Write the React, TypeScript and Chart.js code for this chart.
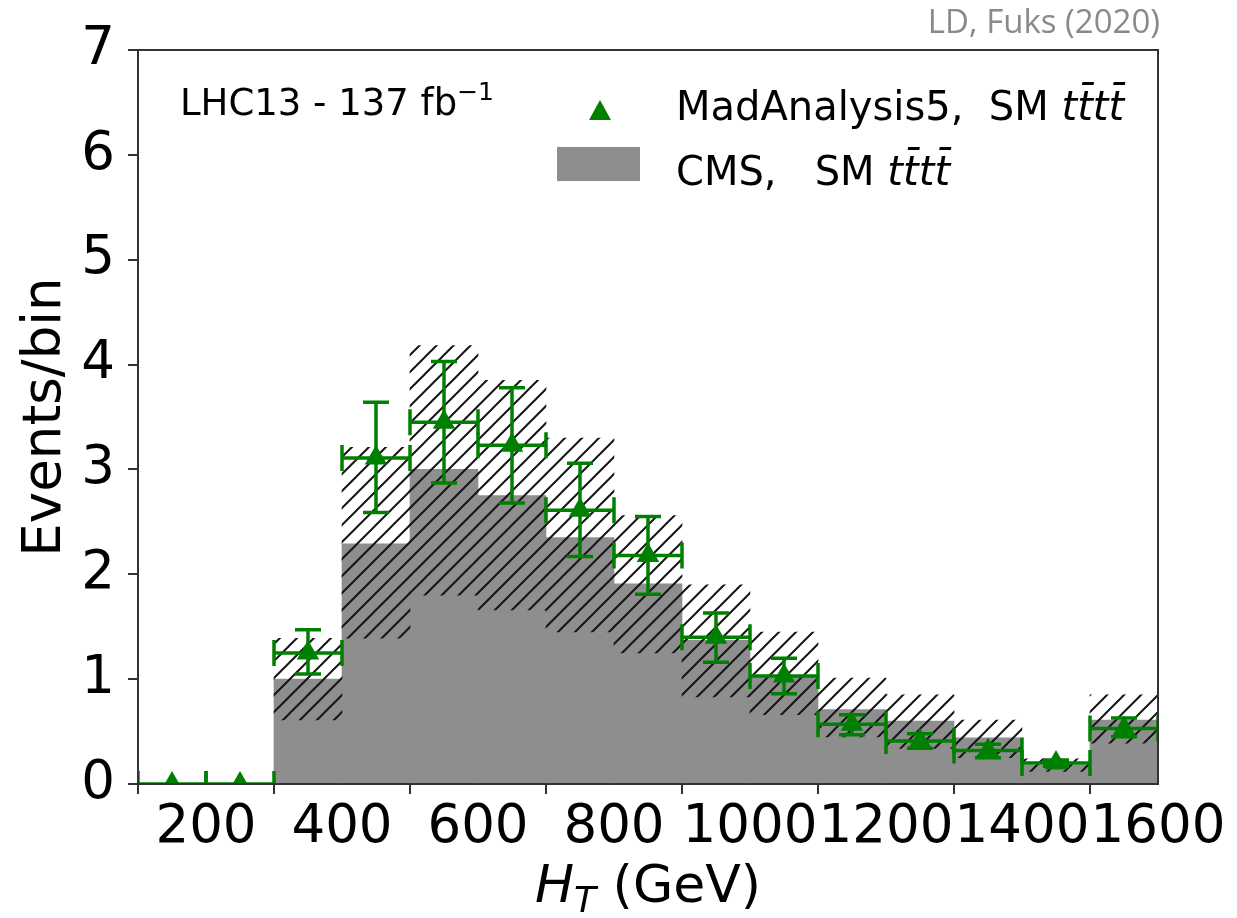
import React, { useEffect, useRef } from "react";
import { Chart, registerables } from "chart.js";

Chart.register(...registerables);

// ---- data ----
const binCenters = [150, 250, 350, 450, 550, 650, 750, 850, 950, 1050, 1150, 1250, 1350, 1450, 1550];
const binHalfWidth = 50;
const cmsValues = [0, 0, 1.0, 2.29, 3.0, 2.75, 2.35, 1.91, 1.37, 1.02, 0.71, 0.6, 0.44, 0.18, 0.61];
const cmsUncLow = [0, 0, 0.61, 1.39, 1.8, 1.66, 1.45, 1.25, 0.83, 0.66, 0.45, 0.34, 0.25, 0.12, 0.39];
const cmsUncHigh = [0, 0, 1.39, 3.21, 4.18, 3.85, 3.3, 2.56, 1.9, 1.45, 1.01, 0.85, 0.61, 0.24, 0.85];
const maValues = [0, 0, 1.25, 3.11, 3.45, 3.23, 2.61, 2.18, 1.4, 1.03, 0.57, 0.41, 0.32, 0.2, 0.53];
const maErrLow = [0, 0, 1.05, 2.59, 2.87, 2.68, 2.17, 1.81, 1.16, 0.86, 0.47, 0.34, 0.25, 0.17, 0.45];
const maErrHigh = [0, 0, 1.47, 3.64, 4.03, 3.78, 3.06, 2.55, 1.63, 1.2, 0.66, 0.48, 0.38, 0.23, 0.63];
const xTickValues = [200, 400, 600, 800, 1000, 1200, 1400, 1600];
const yTickValues = [0, 1, 2, 3, 4, 5, 6, 7];

const GREEN = "#008000";
const GRAY = "#8e8e8e";
const AXIS = "#333333";

function makeHatch(): CanvasPattern | string {
  const s = 17;
  const c = document.createElement("canvas");
  c.width = s;
  c.height = s;
  const g = c.getContext("2d");
  if (!g) return "rgba(0,0,0,0.3)";
  g.strokeStyle = "#151515";
  g.lineWidth = 2;
  g.beginPath();
  g.moveTo(0, s);
  g.lineTo(s, 0);
  g.moveTo(-2, 2);
  g.lineTo(2, -2);
  g.moveTo(s - 2, s + 2);
  g.lineTo(s + 2, s - 2);
  g.stroke();
  const p = g.createPattern(c, "repeat");
  return p || "rgba(0,0,0,0.3)";
}

const errorBarPlugin = {
  id: "errorBars",
  afterDatasetsDraw(chart: any) {
    const { ctx, chartArea, scales } = chart;
    const xs = scales.x;
    const ys = scales.y;
    ctx.save();
    ctx.beginPath();
    ctx.rect(chartArea.left, chartArea.top, chartArea.right - chartArea.left, chartArea.bottom - chartArea.top);
    ctx.clip();
    ctx.strokeStyle = GREEN;
    ctx.lineWidth = 3.5;
    const cap = 13;
    for (let i = 0; i < binCenters.length; i++) {
      const px = xs.getPixelForValue(binCenters[i]);
      const pl = xs.getPixelForValue(binCenters[i] - binHalfWidth);
      const pr = xs.getPixelForValue(binCenters[i] + binHalfWidth);
      const py = ys.getPixelForValue(maValues[i]);
      const pt = ys.getPixelForValue(maErrHigh[i]);
      const pb = ys.getPixelForValue(maErrLow[i]);
      ctx.beginPath();
      ctx.moveTo(pl, py);
      ctx.lineTo(pr, py);
      ctx.moveTo(pl, py - cap);
      ctx.lineTo(pl, py + cap);
      ctx.moveTo(pr, py - cap);
      ctx.lineTo(pr, py + cap);
      ctx.moveTo(px, pt);
      ctx.lineTo(px, pb);
      ctx.moveTo(px - cap, pt);
      ctx.lineTo(px + cap, pt);
      ctx.moveTo(px - cap, pb);
      ctx.lineTo(px + cap, pb);
      ctx.stroke();
    }
    ctx.restore();
  },
  afterDraw(chart: any) {
    const { ctx, chartArea } = chart;
    ctx.save();
    ctx.strokeStyle = AXIS;
    ctx.lineWidth = 2;
    ctx.strokeRect(chartArea.left, chartArea.top, chartArea.right - chartArea.left, chartArea.bottom - chartArea.top);
    ctx.restore();
  },
};

export default function App() {
  const ref = useRef<HTMLCanvasElement | null>(null);

  useEffect(() => {
    if (!ref.current) return;
    const hatch = makeHatch();
    const chart = new Chart(ref.current, {
      type: "bar",
      data: {
        datasets: [
          {
            type: "bar",
            label: "CMS,   SM tttt",
            data: binCenters.map((x, i) => ({ x, y: cmsValues[i] })),
            backgroundColor: GRAY,
            borderWidth: 0,
            grouped: false,
            barPercentage: 1,
            categoryPercentage: 1,
            order: 3,
          } as any,
          {
            type: "bar",
            label: "CMS uncertainty",
            data: binCenters.map((x, i) => ({ x, y: [cmsUncLow[i], cmsUncHigh[i]] })),
            backgroundColor: hatch,
            borderWidth: 0,
            grouped: false,
            barPercentage: 1,
            categoryPercentage: 1,
            order: 2,
          } as any,
          {
            type: "scatter",
            label: "MadAnalysis5,  SM tttt",
            data: binCenters.map((x, i) => ({ x, y: maValues[i] })),
            pointStyle: "triangle",
            pointRadius: 13,
            backgroundColor: GREEN,
            borderColor: GREEN,
            borderWidth: 0,
            clip: 0,
            order: 1,
          } as any,
        ],
      },
      options: {
        animation: false,
        responsive: false,
        events: [],
        layout: { padding: { top: 50, right: 79, left: 0, bottom: 0 } },
        plugins: { legend: { display: false }, tooltip: { enabled: false } },
        scales: {
          x: {
            type: "linear",
            min: 100,
            max: 1600,
            offset: false,
            afterBuildTicks: (scale: any) => {
              scale.ticks = xTickValues.map((v) => ({ value: v }));
            },
            afterFit: (scale: any) => {
              scale.height = 134;
            },
            grid: { drawOnChartArea: false, drawTicks: true, tickLength: 10, color: AXIS, lineWidth: 2 },
            border: { display: false },
            ticks: {
              color: "#000",
              font: { family: "DejaVu Sans", size: 53 },
              padding: 2,
              maxRotation: 0,
              autoSkip: false,
              callback: (v: any) => String(v),
            },
          },
          y: {
            type: "linear",
            min: 0,
            max: 7,
            afterBuildTicks: (scale: any) => {
              scale.ticks = yTickValues.map((v) => ({ value: v }));
            },
            afterFit: (scale: any) => {
              scale.width = 138;
            },
            grid: { drawOnChartArea: false, drawTicks: true, tickLength: 10, color: AXIS, lineWidth: 2 },
            border: { display: false },
            ticks: {
              color: "#000",
              font: { family: "DejaVu Sans", size: 53 },
              padding: 13,
              callback: (v: any) => String(v),
            },
            title: {
              display: true,
              text: "Events/bin",
              color: "#000",
              font: { family: "DejaVu Sans", size: 53 },
              padding: { top: 14, bottom: 0 },
            },
          },
        },
      },
      plugins: [errorBarPlugin],
    });
    return () => chart.destroy();
  }, []);

  const tttt = (
    <span style={{ fontStyle: "italic" }}>
      t{"t\u0304"}t{"t\u0304"}
    </span>
  );

  return (
    <div style={{ position: "absolute", left: 0, top: 0, width: 1237, height: 918, background: "#fff" }}>
      <canvas ref={ref} width={1237} height={918} style={{ position: "absolute", left: 0, top: 0, width: 1237, height: 918 }} />
      <div
        style={{
          position: "absolute",
          right: 1237 - 1160,
          top: 4,
          font: "33px 'Open Sans'",
          lineHeight: "33px",
          color: "#8a8a8a",
          whiteSpace: "nowrap",
        }}
      >
        LD, Fuks (2020)
      </div>
      <div
        style={{
          position: "absolute",
          left: 180,
          top: 84,
          font: "37px 'DejaVu Sans'",
          lineHeight: "37px",
          color: "#000",
          whiteSpace: "nowrap",
        }}
      >
        LHC13 - 137 fb
        <span style={{ fontSize: 25, position: "relative", top: -15 }}>−1</span>
      </div>
      {/* legend */}
      <div
        style={{
          position: "absolute",
          left: 589,
          top: 100,
          width: 0,
          height: 0,
          borderLeft: "11px solid transparent",
          borderRight: "11px solid transparent",
          borderBottom: "20px solid " + GREEN,
        }}
      />
      <div
        style={{
          position: "absolute",
          left: 676,
          top: 86,
          font: "40px 'DejaVu Sans'",
          lineHeight: "40px",
          color: "#000",
          whiteSpace: "pre",
        }}
      >
        {"MadAnalysis5,  SM "}
        {tttt}
      </div>
      <div style={{ position: "absolute", left: 557, top: 147, width: 83, height: 34, background: GRAY }} />
      <div
        style={{
          position: "absolute",
          left: 676,
          top: 151,
          font: "40px 'DejaVu Sans'",
          lineHeight: "40px",
          color: "#000",
          whiteSpace: "pre",
        }}
      >
        {"CMS,   SM "}
        {tttt}
      </div>
      {/* x-axis title */}
      <div
        style={{
          position: "absolute",
          left: 138,
          width: 1020,
          top: 858,
          textAlign: "center",
          font: "52px 'DejaVu Sans'",
          lineHeight: "52px",
          color: "#000",
          whiteSpace: "nowrap",
        }}
      >
        <span style={{ fontStyle: "italic" }}>H</span>
        <span style={{ fontStyle: "italic", fontSize: 36, position: "relative", top: 10 }}>T</span>
        {" (GeV)"}
      </div>
    </div>
  );
}
